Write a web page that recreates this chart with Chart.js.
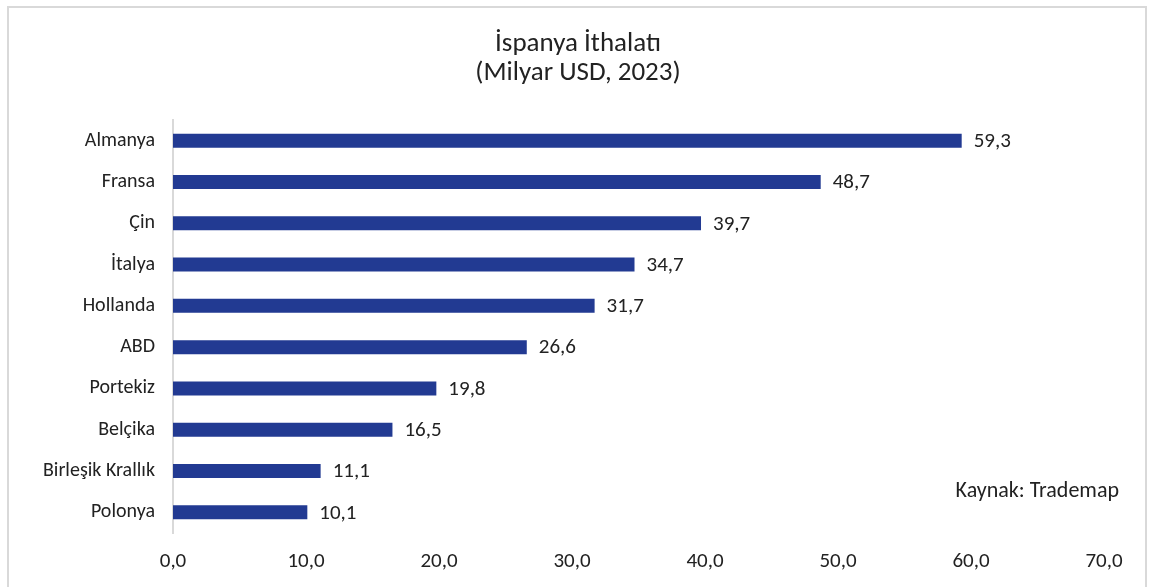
<!DOCTYPE html>
<html>
<head>
<meta charset="utf-8">
<script src="https://cdn.jsdelivr.net/npm/chart.js@4.4.1/dist/chart.umd.min.js"></script>
<style>
  html, body { margin: 0; padding: 0; background: #fff; }
  #wrap { position: relative; width: 1157px; height: 587px; }
  #frame { position: absolute; left: 7px; top: 6px; width: 1136px; height: 600px; border: 2px solid #d9d9d9; }
  canvas { position: absolute; left: 0; top: 0; }
</style>
</head>
<body>
<div id="wrap">
  <div id="frame"></div>
  <canvas id="mycanvas" width="1157" height="587"></canvas>
</div>
<script>
var countries = ["Almanya", "Fransa", "Çin", "İtalya", "Hollanda", "ABD", "Portekiz", "Belçika", "Birleşik Krallık", "Polonya"];
var imports = [59.3, 48.7, 39.7, 34.7, 31.7, 26.6, 19.8, 16.5, 11.1, 10.1];
var xTicks = [0, 10, 20, 30, 40, 50, 60, 70];

var fontFam = "Carlito, Calibri, 'Liberation Sans', sans-serif";

function trNum(v, d) {
  return v.toFixed(d).replace(".", ",");
}

// title, subtitle, source note and value labels
var textPlugin = {
  id: "texts",
  afterDatasetsDraw: function(chart) {
    var ctx = chart.ctx;
    ctx.save();
    ctx.fillStyle = "#222";
    ctx.textAlign = "center";
    ctx.textBaseline = "middle";
    ctx.font = "27px " + fontFam;
    ctx.fillText("İspanya İthalatı", 578, 44);
    ctx.fillText("(Milyar USD, 2023)", 578, 73);

    ctx.textAlign = "right";
    ctx.font = "22px " + fontFam;
    ctx.fillText("Kaynak: Trademap", 1119, 491);

    ctx.textAlign = "left";
    ctx.font = "21px " + fontFam;
    var meta = chart.getDatasetMeta(0);
    meta.data.forEach(function(bar, i) {
      ctx.fillText(trNum(imports[i], 1), bar.x + 12, bar.y + 1);
    });
    ctx.restore();
  }
};

var ctx = document.getElementById("mycanvas");

var chartdata = {
  labels: countries,
  datasets: [
    {
      label: "İthalat",
      data: imports,
      backgroundColor: "#223a92",
      borderWidth: 0,
      barPercentage: 0.34,
      categoryPercentage: 1.0
    }
  ]
};

var BarGraph = new Chart(ctx, {
  type: "bar",
  data: chartdata,
  plugins: [textPlugin],
  options: {
    indexAxis: "y",
    responsive: false,
    animation: false,
    layout: { padding: { top: 120, right: 53, bottom: 0, left: 0 } },
    plugins: {
      legend: { display: false },
      tooltip: { enabled: false }
    },
    scales: {
      x: {
        min: 0,
        max: 70,
        afterBuildTicks: function(scale) {
          scale.ticks = xTicks.map(function(v) { return { value: v }; });
        },
        afterFit: function(scale) { scale.height = 54; },
        grid: { display: false, drawTicks: false },
        border: { display: false },
        ticks: {
          padding: 16,
          color: "#222",
          font: { family: fontFam, size: 21 },
          maxRotation: 0,
          callback: function(v) { return trNum(v, 1); }
        }
      },
      y: {
        afterFit: function(scale) { scale.width = 173; },
        grid: { display: false, drawTicks: false },
        border: { display: true, color: "#d9d9d9", width: 2 },
        ticks: {
          padding: 18,
          color: "#222",
          font: { family: fontFam, size: 20 }
        }
      }
    }
  }
});
</script>
</body>
</html>
